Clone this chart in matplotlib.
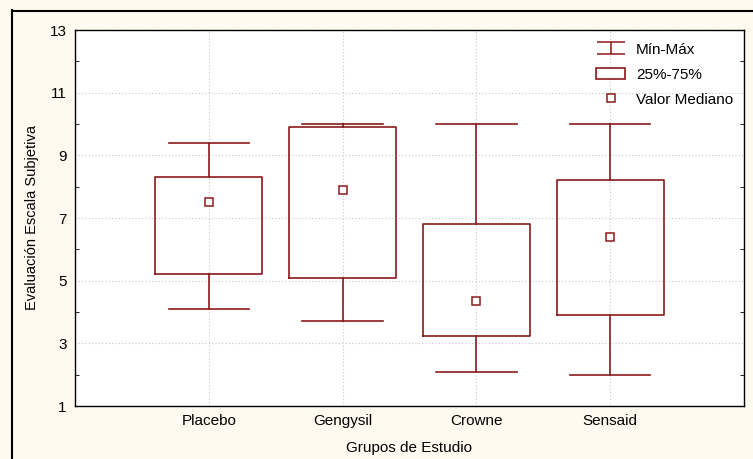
import matplotlib
matplotlib.use("Agg")
import matplotlib.pyplot as plt
from matplotlib.lines import Line2D
from matplotlib.patches import Patch
from matplotlib.path import Path

# Datos
grupos = ["Placebo", "Gengysil", "Crowne", "Sensaid"]
minimos = [4.1, 3.7, 2.1, 2.0]
q1 = [5.2, 5.1, 3.25, 3.9]
medianas = [7.5, 7.9, 4.35, 6.4]
q3 = [8.3, 9.9, 6.8, 8.2]
maximos = [9.4, 10.0, 10.0, 10.0]

rojo = "#8b1a1a"
fondo = "#fffaef"

plt.rcParams["font.family"] = ["Liberation Sans", "DejaVu Sans"]

fig = plt.figure(figsize=(7.53, 4.59), dpi=100, facecolor=fondo)
ax = fig.add_axes([75 / 753, 53 / 459, 669 / 753, 376 / 459])
ax.set_facecolor("white")

posiciones = list(range(1, len(grupos) + 1))
stats = []
for g, lo, a, m, b, hi in zip(grupos, minimos, q1, medianas, q3, maximos):
    stats.append({"label": g, "whislo": lo, "q1": a, "med": m, "q3": b, "whishi": hi})

ax.bxp(stats, positions=posiciones, widths=0.8, capwidths=0.6, showfliers=False,
       boxprops=dict(color=rojo, linewidth=1.2),
       whiskerprops=dict(color=rojo, linewidth=1.2),
       capprops=dict(color=rojo, linewidth=1.2),
       medianprops=dict(linewidth=0), zorder=3)
ax.plot(posiciones, medianas, linestyle="none", marker="s", markersize=6,
        markerfacecolor="white", markeredgecolor=rojo, markeredgewidth=1.1, zorder=4)

ax.set_xlim(0, 5)
ax.set_ylim(1, 13)
ax.set_yticks(range(1, 14, 2))
ax.set_yticks(range(2, 13, 2), minor=True)
ax.set_xticks(posiciones)
ax.set_xticklabels(grupos)
ax.tick_params(axis="both", which="major", length=0, labelsize=11, pad=6)
ax.tick_params(axis="y", which="minor", direction="in", length=3, right=True)
ax.grid(True, which="major", linestyle=(0, (1, 2)), color="#c8c8c8", linewidth=0.8)
ax.set_axisbelow(True)
for s in ax.spines.values():
    s.set_color("black")
    s.set_linewidth(1)

ax.set_xlabel("Grupos de Estudio", fontsize=11, labelpad=9)
ax.set_ylabel("Evaluación Escala Subjetiva", fontsize=10.5, labelpad=8)

# Leyenda
ibar = Path([(-1, 0.4), (1, 0.4), (0, 0.4), (0, -0.4), (-1, -0.4), (1, -0.4)],
            [Path.MOVETO, Path.LINETO, Path.MOVETO, Path.LINETO, Path.MOVETO, Path.LINETO])
h_minmax = Line2D([], [], linestyle="none", marker=ibar, markersize=20,
                  markeredgecolor=rojo, markerfacecolor="none", markeredgewidth=1.1)
h_caja = Patch(facecolor="white", edgecolor=rojo, linewidth=1.2)
h_med = Line2D([], [], linestyle="none", marker="s", markersize=6,
               markerfacecolor="white", markeredgecolor=rojo, markeredgewidth=1.1)
ax.legend([h_minmax, h_caja, h_med], ["Mín-Máx", "25%-75%", "Valor Mediano"],
          loc="upper right", bbox_to_anchor=(1.0, 0.995), frameon=False, fontsize=11,
          handlelength=1.9, handletextpad=0.7, labelspacing=0.72, borderaxespad=0.3)

# Marco exterior
fig.add_artist(Line2D([11.5 / 753, 11.5 / 753], [0, 1 - 10 / 459], color="black", linewidth=1.5))
fig.add_artist(Line2D([11.5 / 753, 1], [1 - 10.5 / 459, 1 - 10.5 / 459], color="black", linewidth=1.5))

fig.savefig("out.png", dpi=100, facecolor=fondo)
